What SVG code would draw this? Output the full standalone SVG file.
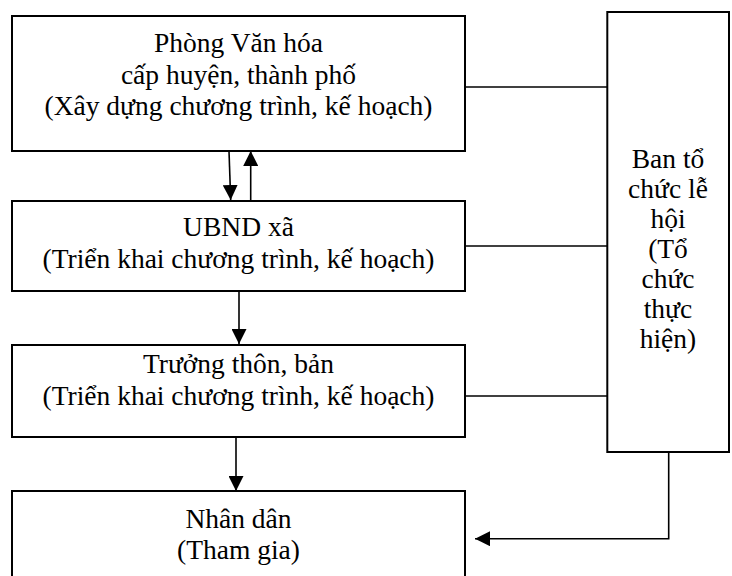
<svg xmlns="http://www.w3.org/2000/svg" width="732" height="576" viewBox="0 0 732 576">
<style>
.box{fill:#fff;stroke:#000;stroke-width:2}
.t{font-family:"Liberation Serif","Times New Roman",serif;font-size:27.5px;fill:#000;text-anchor:middle}
.c{fill:none;stroke:#000;stroke-width:1.6}
</style>
<defs>
<marker id="ah" viewBox="0 0 10 10" refX="10" refY="5" markerWidth="15" markerHeight="15" markerUnits="userSpaceOnUse" orient="auto">
<path d="M0,0 L10,5 L0,10 Z" fill="#000"/>
</marker>
</defs>
<g id="connectors">
<line class="c" x1="229" y1="151" x2="230.7" y2="200" marker-end="url(#ah)"/>
<line class="c" x1="250.7" y1="200" x2="250.7" y2="151" marker-end="url(#ah)"/>
<line class="c" x1="239" y1="292" x2="239" y2="344" marker-end="url(#ah)"/>
<line class="c" x1="236" y1="437" x2="236" y2="491" marker-end="url(#ah)"/>
<line class="c" x1="465" y1="87" x2="607" y2="87"/>
<line class="c" x1="465" y1="246" x2="607" y2="246"/>
<line class="c" x1="465" y1="396" x2="607" y2="396"/>
<polyline class="c" points="668.7,452 668.7,538.7 475,538.7" marker-end="url(#ah)"/>
</g>
<g id="n1">
<rect class="box" x="12" y="16" width="453" height="135"/>
<text class="t" x="238.5" y="52">Phòng Văn hóa</text>
<text class="t" x="238.5" y="84">cấp huyện, thành phố</text>
<text class="t" x="238.5" y="115">(Xây dựng chương trình, kế hoạch)</text>
</g>
<g id="n2">
<rect class="box" x="12" y="201" width="453" height="90"/>
<text class="t" x="238.5" y="236">UBND xã</text>
<text class="t" x="238.5" y="268">(Triển khai chương trình, kế hoạch)</text>
</g>
<g id="n3">
<rect class="box" x="12" y="345" width="453" height="92"/>
<text class="t" x="238.5" y="373">Trưởng thôn, bản</text>
<text class="t" x="238.5" y="405">(Triển khai chương trình, kế hoạch)</text>
</g>
<g id="n4">
<rect class="box" x="12" y="491" width="453" height="100"/>
<text class="t" x="238.5" y="528">Nhân dân</text>
<text class="t" x="238.5" y="559">(Tham gia)</text>
</g>
<g id="n5">
<rect class="box" x="607.3" y="12" width="121.7" height="440"/>
<text class="t" x="668" y="168">Ban tổ</text>
<text class="t" x="668" y="198">chức lễ</text>
<text class="t" x="668" y="228">hội</text>
<text class="t" x="668" y="258">(Tổ</text>
<text class="t" x="668" y="288">chức</text>
<text class="t" x="668" y="318">thực</text>
<text class="t" x="668" y="348">hiện)</text>
</g>
</svg>
